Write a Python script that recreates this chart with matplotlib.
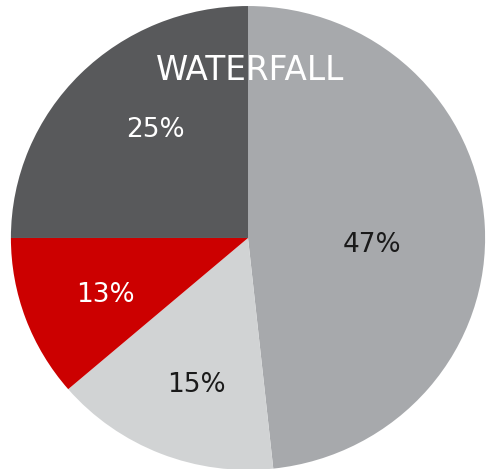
import matplotlib
matplotlib.use('Agg')
import matplotlib.pyplot as plt

# slice sizes as drawn in the picture (clockwise from 12 o'clock)
shares = [48.3, 15.4, 11.3, 25.0]
pct_labels = ['47%', '15%', '13%', '25%']
colors = ['#a7a9ac', '#d1d3d4', '#cc0000', '#58595b']
text_colors = ['#1a1a1a', '#1a1a1a', 'white', 'white']
title = 'WATERFALL'

fig = plt.figure(figsize=(4.87, 4.69), dpi=100)
ax = fig.add_axes([0, 0, 1, 1])
ax.pie(shares, colors=colors, startangle=90, counterclock=False,
       wedgeprops=dict(linewidth=0))
# pie is slightly squashed and clipped by the frame in the original
ax.set_aspect('auto')
ax.set_xlim(-1.046, 1.008)
ax.set_ylim(-0.996, 1.026)
ax.axis('off')

# label centres in pixel coords of the original image
label_px = [(372, 245), (196, 385), (105, 295), (155, 130)]
for lab, c, (px, py) in zip(pct_labels, text_colors, label_px):
    fig.text(px / 487, 1 - py / 469, lab, color=c, fontsize=19,
             ha='center', va='center', family='DejaVu Sans')

fig.text(250 / 487, 1 - 70 / 469, title, color='white', fontsize=23.5,
         ha='center', va='center', family='DejaVu Sans')

fig.savefig('out.png', dpi=100, facecolor='white')
